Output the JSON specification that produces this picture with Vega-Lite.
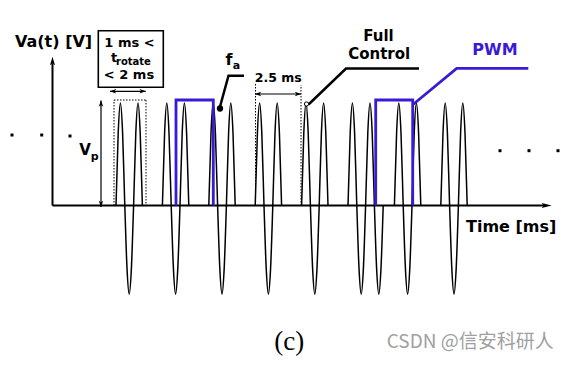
{
  "$schema": "https://vega.github.io/schema/vega-lite/v6.json",
  "width": 573,
  "height": 368,
  "autosize": {"type": "fit", "contains": "padding"},
  "padding": 0,
  "background": "white",
  "config": {"view": {"stroke": null}},
  "datasets": {
    "wave": [
      {"b":1,"t":116,"v":0},{"b":1,"t":118.2,"v":72.5},{"b":1,"t":120.4,"v":102.5},{"b":1,"t":122.6,"v":72.5},{"b":1,"t":124.8,"v":0},{"b":1,"t":127,"v":-62.6},{"b":1,"t":129.2,"v":-88.5},{"b":1,"t":131.4,"v":-62.6},{"b":1,"t":133.6,"v":0},{"b":1,"t":135.8,"v":72.5},{"b":1,"t":138,"v":102.5},{"b":1,"t":140.2,"v":72.5},{"b":1,"t":142.4,"v":0},
      {"b":2,"t":162.4,"v":0},{"b":2,"t":164.6,"v":72.5},{"b":2,"t":166.8,"v":102.5},{"b":2,"t":169,"v":72.5},{"b":2,"t":171.2,"v":0},{"b":2,"t":173.4,"v":-62.6},{"b":2,"t":175.6,"v":-88.5},{"b":2,"t":177.8,"v":-62.6},{"b":2,"t":180,"v":0},{"b":2,"t":182.2,"v":72.5},{"b":2,"t":184.4,"v":102.5},{"b":2,"t":186.6,"v":72.5},{"b":2,"t":188.8,"v":0},
      {"b":3,"t":208.8,"v":0},{"b":3,"t":211,"v":72.5},{"b":3,"t":213.2,"v":102.5},{"b":3,"t":215.4,"v":72.5},{"b":3,"t":217.6,"v":0},{"b":3,"t":219.8,"v":-62.6},{"b":3,"t":222,"v":-88.5},{"b":3,"t":224.2,"v":-62.6},{"b":3,"t":226.4,"v":0},{"b":3,"t":228.6,"v":72.5},{"b":3,"t":230.8,"v":102.5},{"b":3,"t":233,"v":72.5},{"b":3,"t":235.2,"v":0},
      {"b":4,"t":255.2,"v":0},{"b":4,"t":257.4,"v":72.5},{"b":4,"t":259.6,"v":102.5},{"b":4,"t":261.8,"v":72.5},{"b":4,"t":264,"v":0},{"b":4,"t":266.2,"v":-62.6},{"b":4,"t":268.4,"v":-88.5},{"b":4,"t":270.6,"v":-62.6},{"b":4,"t":272.8,"v":0},{"b":4,"t":275,"v":72.5},{"b":4,"t":277.2,"v":102.5},{"b":4,"t":279.4,"v":72.5},{"b":4,"t":281.6,"v":0},
      {"b":5,"t":301.6,"v":0},{"b":5,"t":303.8,"v":72.5},{"b":5,"t":306,"v":102.5},{"b":5,"t":308.2,"v":72.5},{"b":5,"t":310.4,"v":0},{"b":5,"t":312.6,"v":-62.6},{"b":5,"t":314.8,"v":-88.5},{"b":5,"t":317,"v":-62.6},{"b":5,"t":319.2,"v":0},{"b":5,"t":321.4,"v":72.5},{"b":5,"t":323.6,"v":102.5},{"b":5,"t":325.8,"v":72.5},{"b":5,"t":328,"v":0},
      {"b":6,"t":348,"v":0},{"b":6,"t":350.2,"v":72.5},{"b":6,"t":352.4,"v":102.5},{"b":6,"t":354.6,"v":72.5},{"b":6,"t":356.8,"v":0},{"b":6,"t":359,"v":-62.6},{"b":6,"t":361.2,"v":-88.5},{"b":6,"t":363.4,"v":-62.6},{"b":6,"t":365.6,"v":0},{"b":6,"t":367.8,"v":72.5},{"b":6,"t":370,"v":102.5},{"b":6,"t":372.2,"v":72.5},{"b":6,"t":374.4,"v":0},{"b":6,"t":376.6,"v":-62.6},{"b":6,"t":378.8,"v":-88.5},{"b":6,"t":381,"v":-62.6},{"b":6,"t":383.2,"v":0},
      {"b":7,"t":394.4,"v":0},{"b":7,"t":396.6,"v":72.5},{"b":7,"t":398.8,"v":102.5},{"b":7,"t":401,"v":72.5},{"b":7,"t":403.2,"v":0},{"b":7,"t":405.4,"v":-62.6},{"b":7,"t":407.6,"v":-88.5},{"b":7,"t":409.8,"v":-62.6},{"b":7,"t":412,"v":0},{"b":7,"t":414.2,"v":72.5},{"b":7,"t":416.4,"v":102.5},{"b":7,"t":418.6,"v":72.5},{"b":7,"t":420.8,"v":0},
      {"b":8,"t":440.8,"v":0},{"b":8,"t":443,"v":72.5},{"b":8,"t":445.2,"v":102.5},{"b":8,"t":447.4,"v":72.5},{"b":8,"t":449.6,"v":0},{"b":8,"t":451.8,"v":-62.6},{"b":8,"t":454,"v":-88.5},{"b":8,"t":456.2,"v":-62.6},{"b":8,"t":458.4,"v":0},{"b":8,"t":460.6,"v":72.5},{"b":8,"t":462.8,"v":102.5},{"b":8,"t":465,"v":72.5},{"b":8,"t":467.2,"v":0}
    ],
    "axes": [
      {"t":52.5,"v":0,"t2":52.5,"v2":142},
      {"t":52.5,"v":0,"t2":545,"v2":0}
    ],
    "thin": [
      {"t":110,"v":114.2,"t2":145.7,"v2":114.2},
      {"t":255,"v":111.5,"t2":301,"v2":111.5},
      {"t":101,"v":-1.5,"t2":101,"v2":105}
    ],
    "dotted": [
      {"t":114,"v":0,"t2":114,"v2":105.5},
      {"t":114,"v":105.5,"t2":146,"v2":105.5},
      {"t":146,"v":105.5,"t2":146,"v2":0},
      {"t":255.5,"v":0,"t2":255.5,"v2":122},
      {"t":301,"v":0,"t2":301,"v2":120.5}
    ],
    "box": [{"t":98.3,"v":174.8,"t2":163.3,"v2":118.2}],
    "purple": [
      {"id":"r1","i":1,"t":176,"v":0},{"id":"r1","i":2,"t":176,"v":105.5},{"id":"r1","i":3,"t":213.3,"v":105.5},{"id":"r1","i":4,"t":213.3,"v":0},
      {"id":"r2","i":1,"t":375.7,"v":0},{"id":"r2","i":2,"t":375.7,"v":105.5},{"id":"r2","i":3,"t":412.7,"v":105.5},{"id":"r2","i":4,"t":412.7,"v":0},
      {"id":"pp","i":1,"t":413,"v":101},{"id":"pp","i":2,"t":456.7,"v":137.2},{"id":"pp","i":3,"t":528.3,"v":137.2}
    ],
    "pointers": [
      {"id":"fa","i":1,"t":219.5,"v":97},{"id":"fa","i":2,"t":228.5,"v":129.8},{"id":"fa","i":3,"t":244,"v":129.8},
      {"id":"fc","i":1,"t":308.5,"v":101},{"id":"fc","i":2,"t":346,"v":137},{"id":"fc","i":3,"t":419,"v":137}
    ],
    "heads": [
      {"d":"up","t":101,"v":102},
      {"d":"down","t":101,"v":1.5},
      {"d":"left","t":113,"v":114.2},
      {"d":"right","t":142.7,"v":114.2},
      {"d":"left","t":258,"v":111.5},
      {"d":"right","t":298,"v":111.5},
      {"d":"bigup","t":52.5,"v":144.5},
      {"d":"bigright","t":546.7,"v":0}
    ],
    "dots": [
      {"t":12,"v":70.5},{"t":41.7,"v":70.5},{"t":70,"v":69.5},
      {"t":500,"v":54.8},{"t":529,"v":54.8},{"t":558,"v":54.8}
    ],
    "fdot": [{"t":220,"v":97}],
    "circ": [{"t":306.5,"v":101.5}],
    "texts": [
      {"g":"b16l","t":15,"v":158.8,"label":"Va(t) [V]"},
      {"g":"b16l","t":225.5,"v":140.5,"label":"f"},
      {"g":"b16l","t":466,"v":-26.2,"label":"Time [ms]"},
      {"g":"b13c","t":129.5,"v":158.5,"label":"1 ms <"},
      {"g":"b13c","t":129,"v":126.8,"label":"< 2 ms"},
      {"g":"b13l","t":111,"v":143.2,"label":"t"},
      {"g":"b10l","t":116,"v":140.5,"label":"rotate"},
      {"g":"b11l","t":232.7,"v":137,"label":"a"},
      {"g":"b11l","t":90.7,"v":45.5,"label":"p"},
      {"g":"b15l","t":79.3,"v":50.5,"label":"V"},
      {"g":"b12c","t":278.3,"v":123.2,"label":"2.5 ms"},
      {"g":"b15c","t":378.5,"v":164.5,"label":"Full"},
      {"g":"b15c","t":379.2,"v":146.5,"label":"Control"},
      {"g":"pwm","t":495,"v":150.5,"label":"PWM"},
      {"g":"serif","t":289.3,"v":-144,"label":"(c)"},
      {"g":"wm","t":386.7,"v":-142,"label":"CSDN @信安科研人"}
    ]
  },
  "encoding": {
    "x": {"field": "t", "type": "quantitative", "scale": {"domain": [0, 573], "nice": false, "zero": false}, "axis": null},
    "y": {"field": "v", "type": "quantitative", "scale": {"domain": [-162.5, 205.5], "nice": false, "zero": false}, "axis": null}
  },
  "layer": [
    {"data": {"name": "box"}, "mark": {"type": "rect", "fill": "white", "stroke": "black", "strokeWidth": 1.6},
     "encoding": {"x2": {"field": "t2"}, "y2": {"field": "v2"}}},
    {"data": {"name": "dotted"}, "mark": {"type": "rule", "color": "black", "strokeWidth": 1, "strokeDash": [1.5, 1.5]},
     "encoding": {"x2": {"field": "t2"}, "y2": {"field": "v2"}}},
    {"data": {"name": "wave"}, "mark": {"type": "line", "color": "black", "strokeWidth": 1.5, "interpolate": "monotone"},
     "encoding": {"detail": {"field": "b"}}},
    {"data": {"name": "axes"}, "mark": {"type": "rule", "color": "black", "strokeWidth": 2},
     "encoding": {"x2": {"field": "t2"}, "y2": {"field": "v2"}}},
    {"data": {"name": "thin"}, "mark": {"type": "rule", "color": "black", "strokeWidth": 1.2},
     "encoding": {"x2": {"field": "t2"}, "y2": {"field": "v2"}}},
    {"data": {"name": "purple"}, "mark": {"type": "line", "color": "#3a1ad6", "strokeWidth": 2.8, "strokeJoin": "miter"},
     "encoding": {"detail": {"field": "id"}, "order": {"field": "i"}}},
    {"data": {"name": "pointers"}, "mark": {"type": "line", "color": "black", "strokeWidth": 2.5, "strokeJoin": "miter"},
     "encoding": {"detail": {"field": "id"}, "order": {"field": "i"}}},
    {"data": {"name": "heads"}, "transform": [{"filter": "datum.d === 'up'"}],
     "mark": {"type": "point", "shape": "M0,-1L0.7,1L0,0.5L-0.7,1Z", "size": 40, "filled": true, "color": "black", "opacity": 1}},
    {"data": {"name": "heads"}, "transform": [{"filter": "datum.d === 'down'"}],
     "mark": {"type": "point", "shape": "M0,1L0.7,-1L0,-0.5L-0.7,-1Z", "size": 40, "filled": true, "color": "black", "opacity": 1}},
    {"data": {"name": "heads"}, "transform": [{"filter": "datum.d === 'left'"}],
     "mark": {"type": "point", "shape": "M-1,0L1,-0.7L0.5,0L1,0.7Z", "size": 40, "filled": true, "color": "black", "opacity": 1}},
    {"data": {"name": "heads"}, "transform": [{"filter": "datum.d === 'right'"}],
     "mark": {"type": "point", "shape": "M1,0L-1,-0.7L-0.5,0L-1,0.7Z", "size": 40, "filled": true, "color": "black", "opacity": 1}},
    {"data": {"name": "heads"}, "transform": [{"filter": "datum.d === 'bigup'"}],
     "mark": {"type": "point", "shape": "M0,-1L0.6,1L0,0.6L-0.6,1Z", "size": 70, "filled": true, "color": "black", "opacity": 1}},
    {"data": {"name": "heads"}, "transform": [{"filter": "datum.d === 'bigright'"}],
     "mark": {"type": "point", "shape": "M1,0L-1,-0.5L-0.6,0L-1,0.5Z", "size": 100, "filled": true, "color": "black", "opacity": 1}},
    {"data": {"name": "dots"}, "mark": {"type": "point", "shape": "square", "size": 9, "filled": true, "color": "black", "opacity": 1}},
    {"data": {"name": "fdot"}, "mark": {"type": "point", "shape": "circle", "size": 40, "filled": true, "color": "black", "opacity": 1}},
    {"data": {"name": "circ"}, "mark": {"type": "point", "shape": "circle", "size": 18, "filled": true, "fill": "white", "stroke": "black", "strokeWidth": 1, "opacity": 1}},
    {"data": {"name": "texts"}, "transform": [{"filter": "datum.g === 'b16l'"}],
     "mark": {"type": "text", "font": "DejaVu Sans", "fontWeight": "bold", "fontSize": 16, "align": "left", "baseline": "alphabetic", "color": "black"},
     "encoding": {"text": {"field": "label"}}},
    {"data": {"name": "texts"}, "transform": [{"filter": "datum.g === 'b13c'"}],
     "mark": {"type": "text", "font": "DejaVu Sans", "fontWeight": "bold", "fontSize": 13, "align": "center", "baseline": "alphabetic", "color": "black"},
     "encoding": {"text": {"field": "label"}}},
    {"data": {"name": "texts"}, "transform": [{"filter": "datum.g === 'b13l'"}],
     "mark": {"type": "text", "font": "DejaVu Sans", "fontWeight": "bold", "fontSize": 13, "align": "left", "baseline": "alphabetic", "color": "black"},
     "encoding": {"text": {"field": "label"}}},
    {"data": {"name": "texts"}, "transform": [{"filter": "datum.g === 'b10l'"}],
     "mark": {"type": "text", "font": "DejaVu Sans", "fontWeight": "bold", "fontSize": 10, "align": "left", "baseline": "alphabetic", "color": "black"},
     "encoding": {"text": {"field": "label"}}},
    {"data": {"name": "texts"}, "transform": [{"filter": "datum.g === 'b11l'"}],
     "mark": {"type": "text", "font": "DejaVu Sans", "fontWeight": "bold", "fontSize": 11, "align": "left", "baseline": "alphabetic", "color": "black"},
     "encoding": {"text": {"field": "label"}}},
    {"data": {"name": "texts"}, "transform": [{"filter": "datum.g === 'b15l'"}],
     "mark": {"type": "text", "font": "DejaVu Sans", "fontWeight": "bold", "fontSize": 15, "align": "left", "baseline": "alphabetic", "color": "black"},
     "encoding": {"text": {"field": "label"}}},
    {"data": {"name": "texts"}, "transform": [{"filter": "datum.g === 'b12c'"}],
     "mark": {"type": "text", "font": "DejaVu Sans", "fontWeight": "bold", "fontSize": 12.5, "align": "center", "baseline": "alphabetic", "color": "black"},
     "encoding": {"text": {"field": "label"}}},
    {"data": {"name": "texts"}, "transform": [{"filter": "datum.g === 'b15c'"}],
     "mark": {"type": "text", "font": "DejaVu Sans", "fontWeight": "bold", "fontSize": 15, "align": "center", "baseline": "alphabetic", "color": "black"},
     "encoding": {"text": {"field": "label"}}},
    {"data": {"name": "texts"}, "transform": [{"filter": "datum.g === 'pwm'"}],
     "mark": {"type": "text", "font": "DejaVu Sans", "fontWeight": "bold", "fontSize": 16, "align": "center", "baseline": "alphabetic", "color": "#3a1ad6"},
     "encoding": {"text": {"field": "label"}}},
    {"data": {"name": "texts"}, "transform": [{"filter": "datum.g === 'serif'"}],
     "mark": {"type": "text", "font": "Liberation Serif", "fontWeight": "normal", "fontSize": 27, "align": "center", "baseline": "alphabetic", "color": "black"},
     "encoding": {"text": {"field": "label"}}},
    {"data": {"name": "texts"}, "transform": [{"filter": "datum.g === 'wm'"}],
     "mark": {"type": "text", "font": "Noto Sans CJK SC", "fontWeight": "normal", "fontSize": 19, "align": "left", "baseline": "alphabetic", "color": "#a0a0a0"},
     "encoding": {"text": {"field": "label"}}}
  ]
}
